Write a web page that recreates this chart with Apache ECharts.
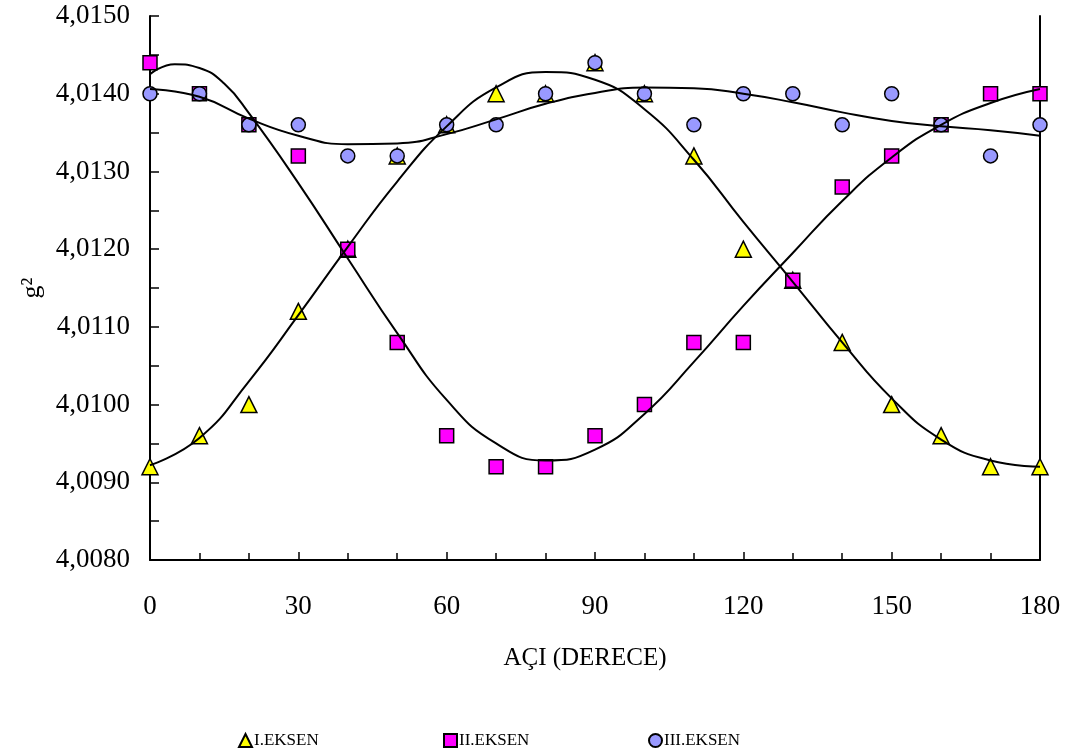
<!DOCTYPE html>
<html>
<head>
<meta charset="utf-8">
<script src="https://cdn.jsdelivr.net/npm/echarts@6/dist/echarts.min.js"></script>
<style>
  html, body { margin: 0; padding: 0; background: #ffffff; }
  #chart { width: 1074px; height: 754px; }
</style>
</head>
<body>
<div id="chart"></div>
<script>
// Measured g^2 values at each rotation angle (degrees)
const angles = [0, 10, 20, 30, 40, 50, 60, 70, 80, 90, 100, 110, 120, 130, 140, 150, 160, 170, 180];
const eksenI   = [4.0092, 4.0096, 4.0100, 4.0112, 4.0120, 4.0132, 4.0136, 4.0140, 4.0140, 4.0144, 4.0140, 4.0132, 4.0120, 4.0116, 4.0108, 4.0100, 4.0096, 4.0092, 4.0092];
const eksenII  = [4.0144, 4.0140, 4.0136, 4.0132, 4.0120, 4.0108, 4.0096, 4.0092, 4.0092, 4.0096, 4.0100, 4.0108, 4.0108, 4.0116, 4.0128, 4.0132, 4.0136, 4.0140, 4.0140];
const eksenIII = [4.0140, 4.0140, 4.0136, 4.0136, 4.0132, 4.0132, 4.0136, 4.0136, 4.0140, 4.0144, 4.0140, 4.0136, 4.0140, 4.0140, 4.0136, 4.0140, 4.0136, 4.0132, 4.0136];

// Trend curves, read along the angle range
const trendAnglesI   = [0, 10, 20, 30, 40, 50, 60, 70, 80, 90, 100, 110, 120, 130, 140, 150, 160, 170, 180];
const trendI         = [4.00922, 4.00957, 4.01030, 4.01115, 4.01203, 4.01287, 4.01358, 4.01408, 4.01428, 4.01418, 4.01380, 4.01315, 4.01235, 4.01158, 4.01080, 4.01008, 4.00955, 4.00928, 4.00920];
const trendAnglesII  = [0, 5, 10, 15, 20, 30, 40, 50, 60, 70, 80, 90, 100, 110, 120, 130, 140, 150, 160, 170, 180];
const trendII        = [4.01425, 4.01438, 4.01433, 4.01413, 4.01375, 4.01285, 4.01188, 4.01092, 4.01006, 4.00950, 4.00928, 4.00942, 4.00988, 4.01055, 4.01127, 4.01195, 4.01262, 4.01318, 4.01360, 4.01388, 4.01406];
const trendAnglesIII = [0, 10, 20, 30, 40, 50, 60, 70, 80, 90, 100, 110, 120, 130, 140, 150, 160, 170, 180];
const trendIII       = [4.01406, 4.01396, 4.01368, 4.01346, 4.01335, 4.01336, 4.01348, 4.01367, 4.01387, 4.01401, 4.01408, 4.01407, 4.01400, 4.01389, 4.01376, 4.01365, 4.01358, 4.01353, 4.01346];

const seriesNames = ['I.EKSEN', 'II.EKSEN', 'III.EKSEN'];

const pairs = (xs, ys) => xs.map((x, i) => [x, ys[i]]);
const fmt = v => v.toFixed(4).replace('.', ',');

const FONT = '"Liberation Serif", "Times New Roman", serif';
const AXIS_LINE = { show: true, lineStyle: { color: '#000', width: 2 } };

const chart = echarts.init(document.getElementById('chart'));

const markerSeries = (name, data, symbol, color, size) => ({
  name: name,
  type: 'scatter',
  data: data,
  symbol: symbol,
  symbolSize: size,
  itemStyle: { color: color, borderColor: '#000', borderWidth: 1.5, opacity: 1 },
  z: 2,
  silent: true
});

const trendSeries = (data) => ({
  type: 'line',
  data: data,
  smooth: 0.5,
  showSymbol: false,
  symbol: 'none',
  lineStyle: { color: '#000', width: 2 },
  z: 3,
  silent: true
});

const legendAt = (name, left) => ({
  data: [name],
  left: left,
  top: 727,
  itemWidth: 13,
  itemHeight: 13,
  itemGap: 4,
  selectedMode: false,
  textStyle: { fontFamily: FONT, fontSize: 17, color: '#000', padding: [0, 0, 0, -3] }
});

chart.setOption({
  backgroundColor: '#ffffff',
  animation: false,
  grid: { left: 150, right: 34, top: 16, bottom: 194 },
  legend: [
    legendAt(seriesNames[0], 233),
    legendAt(seriesNames[1], 438),
    legendAt(seriesNames[2], 643)
  ],
  xAxis: {
    type: 'value',
    min: 0,
    max: 180,
    interval: 30,
    name: 'AÇI (DERECE)',
    nameLocation: 'middle',
    nameGap: 86,
    nameTextStyle: { fontFamily: FONT, fontSize: 25, color: '#000', padding: [0, 20, 0, 0] },
    axisLine: AXIS_LINE,
    axisTick: { show: true, inside: true, length: 8, lineStyle: { color: '#000', width: 1.5 } },
    minorTick: { show: true, splitNumber: 3, length: 7, lineStyle: { color: '#000', width: 1.5 } },
    axisLabel: { margin: 33, fontFamily: FONT, fontSize: 27, color: '#000' },
    splitLine: { show: false }
  },
  yAxis: [
    {
      type: 'value',
      min: 4.0080,
      max: 4.0150,
      interval: 0.0010,
      name: 'g²',
      nameLocation: 'middle',
      nameGap: 100,
      nameTextStyle: { fontFamily: FONT, fontSize: 26, color: '#000' },
      axisLine: AXIS_LINE,
      axisTick: { show: true, inside: true, length: 9, lineStyle: { color: '#000', width: 1.5 } },
      minorTick: { show: true, splitNumber: 2, length: 9, lineStyle: { color: '#000', width: 1.5 } },
      axisLabel: { margin: 20, fontFamily: FONT, fontSize: 27, color: '#000', formatter: fmt },
      splitLine: { show: false }
    },
    {
      type: 'value',
      position: 'right',
      min: 4.0080,
      max: 4.0150,
      interval: 0.0010,
      axisLine: AXIS_LINE,
      axisTick: { show: false },
      axisLabel: { show: false },
      splitLine: { show: false }
    }
  ],
  series: [
    markerSeries(seriesNames[0], pairs(angles, eksenI), 'triangle', '#FFFF00', 16),
    markerSeries(seriesNames[1], pairs(angles, eksenII), 'rect', '#FF00FF', 14),
    markerSeries(seriesNames[2], pairs(angles, eksenIII), 'circle', '#9999FF', 14),
    trendSeries(pairs(trendAnglesI, trendI)),
    trendSeries(pairs(trendAnglesII, trendII)),
    trendSeries(pairs(trendAnglesIII, trendIII))
  ]
});
</script>
</body>
</html>
